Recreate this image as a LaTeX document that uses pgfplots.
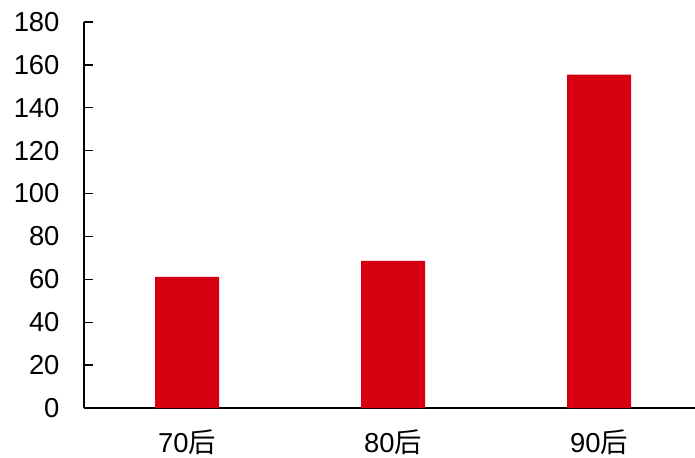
\documentclass[border=0pt]{standalone}
\usepackage{pgfplots}
\pgfplotsset{compat=1.18}
\usetikzlibrary{calc}
\usepackage{fontspec}
\setmainfont{Liberation Sans}
\newfontfamily\cjk{Noto Sans CJK SC}
\definecolor{barred}{RGB}{215,0,17}

\begin{document}
\begin{tikzpicture}
\begin{axis}[
  name=main,
  scale only axis,
  width=611bp, height=386bp,
  xmin=-0.5, xmax=2.466,
  ymin=0, ymax=180,
  ytick={0,20,...,180},
  xtick={0,1,2},
  xticklabels={70{\cjk 后},80{\cjk 后},90{\cjk 后}},
  axis x line=bottom, axis y line=left,
  axis line style={-, line width=1.3pt, black},
  x axis line style={line width=1.8pt},
  tick align=inside,
  major tick length=9bp,
  ytick style={line width=1.3pt, black},
  xtick style={draw=none},
  /pgf/number format/assume math mode=true,
  tick label style={font=\fontsize{27.5}{32}\selectfont},
  yticklabel style={xshift=-21bp},
  xticklabel style={yshift=-9bp},
  ybar, bar width=64bp,
  clip=false,
]
\addplot[fill=barred, draw=none] coordinates {(0,61.2) (1,68.6) (2,155.5)};
\end{axis}
\pgfresetboundingbox
\path ($(main.south west)+(-84bp,-50bp)$) rectangle ($(main.north east)+(0bp,22bp)$);
\end{tikzpicture}
\end{document}
